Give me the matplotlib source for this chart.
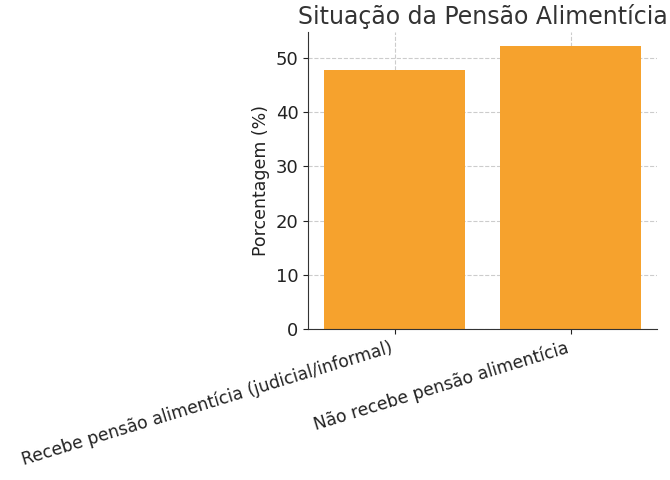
import matplotlib
matplotlib.use('Agg')
import matplotlib.pyplot as plt

# Dados
categorias = ['Recebe pensão alimentícia (judicial/informal)', 'Não recebe pensão alimentícia']
porcentagens = [47.8, 52.2]

fig = plt.figure(figsize=(6.7, 4.8), dpi=100)
ax = fig.add_axes([0.46, 0.315, 0.521, 0.618])
ax.bar(categorias, porcentagens, color='#f6a22d', width=0.8, zorder=2)
ax.set_title('Situação da Pensão Alimentícia', fontsize=17, color='#333333')
ax.set_ylabel('Porcentagem (%)', fontsize=12.5, color='#222222')
ax.tick_params(axis='both', labelsize=13, colors='#222222')
plt.setp(ax.get_xticklabels(), rotation=17, ha='right', fontsize=12.3)
ax.grid(True, linestyle='--', color='#cccccc', linewidth=0.8, zorder=0)
ax.spines['top'].set_visible(False)
ax.spines['right'].set_visible(False)
ax.spines['left'].set_color('#333333')
ax.spines['bottom'].set_color('#333333')
fig.savefig('out.png', dpi=100)
